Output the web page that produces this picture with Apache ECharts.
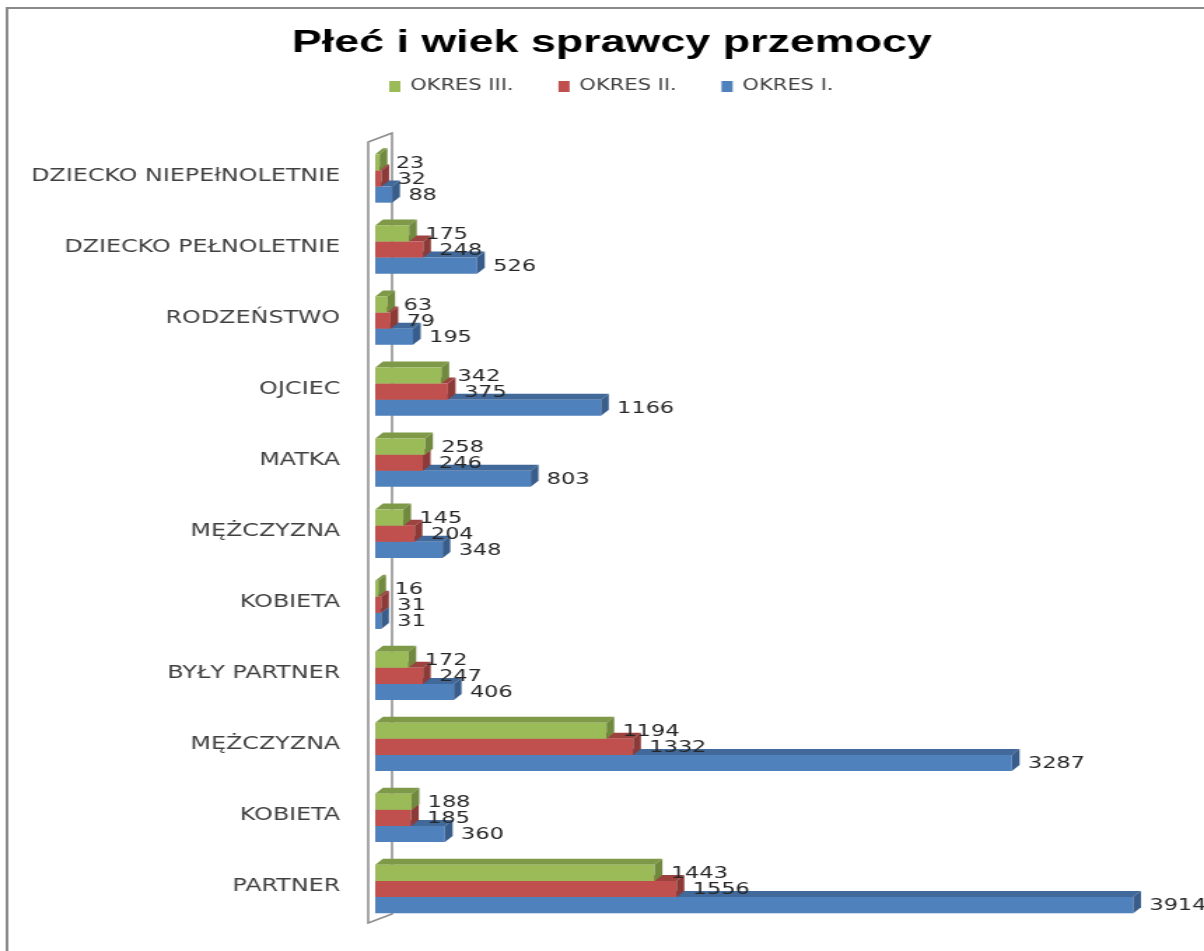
<!DOCTYPE html>
<html>
<head>
<meta charset="utf-8">
<script src="https://cdn.jsdelivr.net/npm/echarts@6/dist/echarts.min.js"></script>
<style>
  html, body { margin: 0; padding: 0; background: #fff; overflow: hidden; }
  /* the reference is stretched sideways, so draw narrow and widen */
  #chart { width: 860px; height: 951px; transform: scaleX(1.4); transform-origin: 0 0; }
</style>
</head>
<body>
<div id="chart"></div>
<script>
// kategorie od dołu do góry (oś kategorii rośnie w górę)
const categories = [
  "PARTNER", "KOBIETA", "MĘŻCZYZNA", "BYŁY PARTNER", "KOBIETA", "MĘŻCZYZNA",
  "MATKA", "OJCIEC", "RODZEŃSTWO", "DZIECKO PEŁNOLETNIE", "DZIECKO NIEPEłNOLETNIE"
];
const seriesNames = ["OKRES I.", "OKRES II.", "OKRES III."];
const okres1 = [3914, 360, 3287, 406, 31, 348, 803, 1166, 195, 526, 88];
const okres2 = [1556, 185, 1332, 247, 31, 204, 246, 375, 79, 248, 32];
const okres3 = [1443, 188, 1194, 172, 16, 145, 258, 342, 63, 175, 23];

// kolor frontu, boku, góry
const PALETTE = [
  { front: "#4F81BD", side: "#385D8A", top: "#41699A" },
  { front: "#C0504D", side: "#8C3A38", top: "#9E4240" },
  { front: "#9BBB59", side: "#71893F", top: "#7E9A48" },
];
const DX = 5.5, DY = 6;

function renderBar(slot) {
  const col = PALETTE[slot];
  return function (params, api) {
    const idx = api.value(1);
    const val = api.value(0);
    const base = api.coord([0, idx]);
    const tip = api.coord([val, idx]);
    const band = api.size([0, 1])[1];
    const h = band * 0.68 / 3;
    const y = base[1] + 1.5 * h - (slot + 1) * h + 2;
    const x0 = base[0], x1 = tip[0];
    return {
      type: "group",
      children: [
        {
          type: "polygon", z2: slot + 1,
          shape: { points: [[x0, y], [x0 + DX, y - DY], [x1 + DX, y - DY], [x1, y]] },
          style: { fill: col.top },
        },
        {
          type: "rect", z2: slot + 1,
          shape: { x: x0, y: y, width: x1 - x0, height: h },
          style: { fill: col.front },
        },
        {
          type: "polygon", z2: slot + 1,
          shape: { points: [[x1, y], [x1 + DX, y - DY], [x1 + DX, y + h - DY], [x1, y + h]] },
          style: { fill: col.side },
        },
        {
          type: "text", z2: 100,
          style: {
            text: String(val), x: x1 + DX + 6, y: y + h / 2 + 1,
            verticalAlign: "middle", align: "left",
            font: "16px 'DejaVu Sans'", fill: "#262626",
          },
        },
      ],
    };
  };
}

const chart = echarts.init(document.getElementById("chart"));
const dataSets = [okres1, okres2, okres3];

chart.setOption({
  animation: false,
  title: {
    text: "Płeć i wiek sprawcy przemocy",
    left: 432, top: 22, textAlign: "center",
    textStyle: { fontFamily: "Liberation Sans", fontWeight: "bold", fontSize: 32, color: "#000" },
  },
  legend: {
    data: ["OKRES III.", "OKRES II.", "OKRES I."],
    left: 273, top: 74,
    icon: "rect", itemWidth: 8, itemHeight: 11, itemGap: 32,
    textStyle: { fontFamily: "DejaVu Sans", fontSize: 15, color: "#404040", padding: [0, 0, 0, 2] },
  },
  grid: { left: 268, right: 38.6, top: 141, bottom: 28.5 },
  xAxis: { type: "value", min: 0, max: 4000, show: false },
  yAxis: {
    type: "category",
    data: categories,
    axisLine: { show: false },
    axisTick: { show: false },
    axisLabel: {
      margin: 25, fontFamily: "DejaVu Sans", fontSize: 17, color: "#404040",
      padding: [6, 0, 0, 0],
    },
  },
  graphic: [
    {
      type: "rect", z: 0, silent: true,
      shape: { x: 5, y: 8, width: 900, height: 960 },
      style: { fill: null, stroke: "#8a8a8a", lineWidth: 2 },
    },
    {
      type: "polygon", z: 0, silent: true,
      shape: { points: [[263, 142], [280, 133], [280, 914], [263, 923]] },
      style: { fill: "#fff", stroke: "#8c8c8c", lineWidth: 1.5 },
    },
  ],
  series: dataSets.map((arr, slot) => ({
    name: seriesNames[slot],
    type: "custom",
    renderItem: renderBar(slot),
    itemStyle: { color: PALETTE[slot].front },
    encode: { x: 0, y: 1 },
    data: arr.map((v, i) => [v, i]),
  })),
});
</script>
</body>
</html>
